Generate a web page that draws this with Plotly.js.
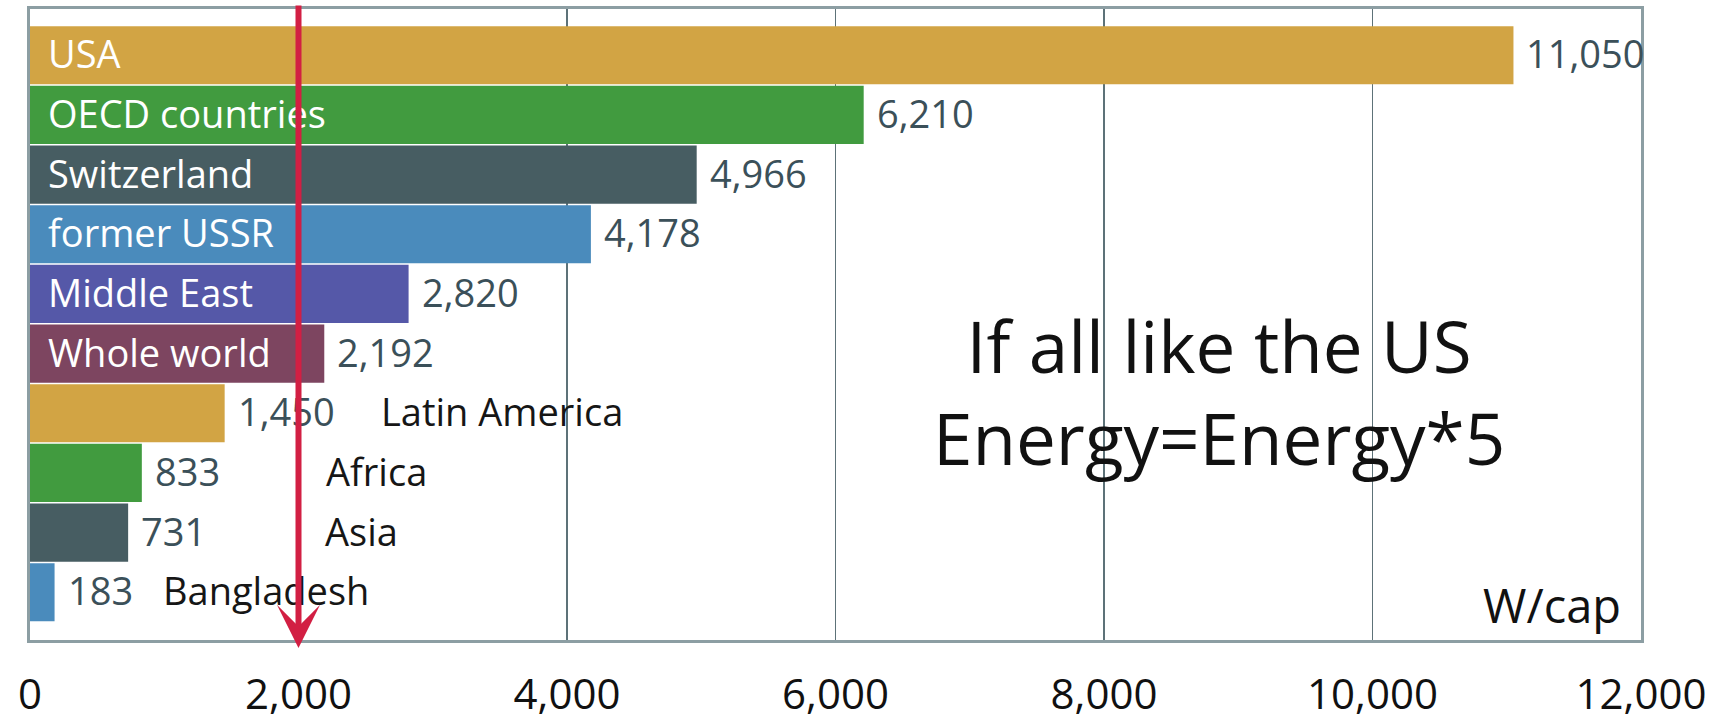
<!DOCTYPE html>
<html>
<head>
<meta charset="utf-8">
<script src="https://cdn.plot.ly/plotly-3.0.1.min.js"></script>
<style>html,body{margin:0;padding:0;background:#fff;}#chart{width:1729px;height:721px;}</style>
</head>
<body>
<div id="chart"></div>
<script>
// ---- data ----
const categories = ['USA', 'OECD countries', 'Switzerland', 'former USSR', 'Middle East', 'Whole world', 'Latin America', 'Africa', 'Asia', 'Bangladesh'];
const values = [11050, 6210, 4966, 4178, 2820, 2192, 1450, 833, 731, 183];
const tickValues = [0, 2000, 4000, 6000, 8000, 10000, 12000];
const tickLabels = ['0', '2,000', '4,000', '6,000', '8,000', '10,000', '12,000'];
const markerValue = 2000;
const unitLabel = 'W/cap';
const noteText = 'If all like the US<br>Energy=Energy*5';

// ---- styles / placement ----
const barColors = ['#d2a444', '#419b3f', '#475d62', '#4a8bbc', '#5558a8', '#7d4560', '#d2a444', '#419b3f', '#475d62', '#4a8bbc'];
const insideCount = 6;                       // first N names drawn inside the bars
const outsideNameX = [null, null, null, null, null, null, 2600, 2190, 2180, 975];
const FONT = '"Open Sans", "Noto Sans", sans-serif';

const fmt = v => v.toLocaleString('en-US');

const annotations = [];
categories.forEach((c, i) => {
  annotations.push({
    x: values[i], y: c, xref: 'x', yref: 'y', xanchor: 'left', yanchor: 'middle',
    xshift: 11, yshift: 2, text: fmt(values[i]), showarrow: false,
    font: {family: FONT, size: 38, color: '#3b5059'}
  });
  if (i < insideCount) {
    annotations.push({
      x: 0, y: c, xref: 'x', yref: 'y', xanchor: 'left', yanchor: 'middle',
      xshift: 16, yshift: 2, text: c, showarrow: false,
      font: {family: FONT, size: 38, color: '#ffffff'}
    });
  } else {
    annotations.push({
      x: outsideNameX[i], y: c, xref: 'x', yref: 'y', xanchor: 'left', yanchor: 'middle',
      yshift: 2, text: c, showarrow: false,
      font: {family: FONT, size: 38, color: '#161616'}
    });
  }
});
annotations.push({
  x: 8860, y: 0.394, xref: 'x', yref: 'paper', xanchor: 'center', yanchor: 'middle',
  text: noteText, showarrow: false, align: 'center',
  font: {family: FONT, size: 71, color: '#111111'}
});
annotations.push({
  x: 0.989, y: 0.056, xref: 'paper', yref: 'paper', xanchor: 'right', yanchor: 'middle',
  text: unitLabel, showarrow: false,
  font: {family: FONT, size: 47, color: '#111111'}
});
// red arrow at the marker value
annotations.push({
  x: markerValue, y: -0.0127, xref: 'x', yref: 'paper',
  ax: 0, ay: -644, axref: 'pixel', ayref: 'pixel',
  text: '', showarrow: true, arrowhead: 3, arrowsize: 1.2, arrowwidth: 6,
  arrowcolor: '#d21f43', standoff: 0, startstandoff: 0
});

const trace = {
  type: 'bar', orientation: 'h',
  x: values, y: categories,
  marker: {color: barColors, line: {width: 0}},
  hoverinfo: 'none'
};

const layout = {
  width: 1729, height: 721,
  margin: {l: 30, r: 88, t: 9, b: 81, pad: 0},
  paper_bgcolor: '#ffffff', plot_bgcolor: '#ffffff',
  showlegend: false,
  bargap: 0.025,
  xaxis: {
    range: [0, 12000], tickvals: tickValues, ticktext: tickLabels,
    showgrid: true, gridcolor: '#5d7278', gridwidth: 1.5,
    zeroline: false, showline: true, mirror: true, linecolor: '#8c9ea3', linewidth: 3,
    ticks: '', ticklabelstandoff: 16,
    tickfont: {family: FONT, size: 42, color: '#111111'}
  },
  yaxis: {
    type: 'category', categoryorder: 'array', categoryarray: categories,
    range: [9.8, -0.775], showticklabels: false, showgrid: false, zeroline: false,
    showline: true, mirror: true, linecolor: '#8c9ea3', linewidth: 3, ticks: ''
  },
  annotations: annotations
};

Plotly.newPlot('chart', [trace], layout, {displayModeBar: false, staticPlot: true});
</script>
</body>
</html>
